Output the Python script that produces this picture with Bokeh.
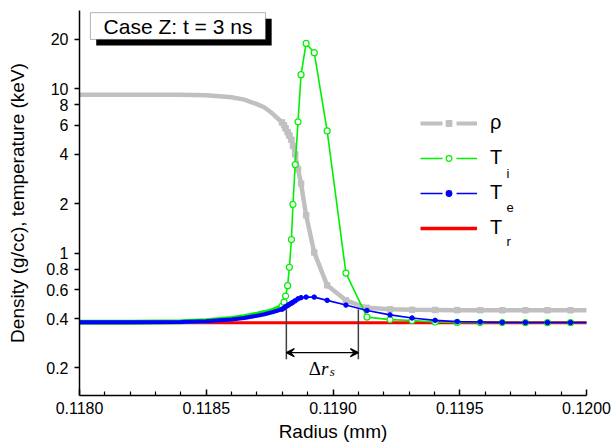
from bokeh.plotting import figure
from bokeh.models import (Range1d, FixedTicker, CustomJSTickFormatter, PrintfTickFormatter, Legend,
                          LegendItem, ColumnDataSource, BoxAnnotation, Label, Arrow, VeeHead)
from bokeh.embed import file_html
from bokeh.resources import INLINE

# ---------------- data ----------------
radius_mm = [0.1180, 0.1182, 0.1184, 0.1185, 0.1186, 0.11865, 0.1187, 0.11873, 0.11876, 0.11878,
             0.118799, 0.118807, 0.118813, 0.118821, 0.118828, 0.118836, 0.118842, 0.118851, 0.118862,
             0.118874, 0.118894, 0.118926, 0.118977, 0.119051, 0.119134, 0.119225, 0.119312, 0.119403,
             0.119490, 0.119581, 0.119668, 0.119759, 0.119846, 0.119937, 0.12002]

rho = [9.2, 9.2, 9.2, 9.15, 8.9, 8.6, 8.07, 7.7, 7.1, 6.65,
       6.25, 6.0, 5.75, 5.45, 5.2, 4.9, 4.5, 4.0, 3.25,
       2.65, 1.70, 1.01, 0.637, 0.516, 0.465, 0.455, 0.452, 0.451,
       0.450, 0.450, 0.449, 0.449, 0.449, 0.449, 0.449]

t_ion = [0.380, 0.380, 0.382, 0.388, 0.400, 0.410, 0.425, 0.435, 0.447, 0.460,
         0.476, 0.503, 0.548, 0.634, 0.82, 1.21, 1.98, 3.46, 6.3,
         12.2, 18.9, 16.6, 5.55, 0.756, 0.408, 0.394, 0.389, 0.381,
         0.379, 0.378, 0.378, 0.378, 0.378, 0.378, 0.378]

t_ele = [0.380, 0.380, 0.381, 0.385, 0.395, 0.403, 0.416, 0.425, 0.437, 0.446,
         0.456, 0.464, 0.472, 0.480, 0.488, 0.496, 0.503, 0.513, 0.527,
         0.536, 0.540, 0.540, 0.516, 0.483, 0.448, 0.421, 0.403, 0.390,
         0.383, 0.381, 0.379, 0.378, 0.378, 0.378, 0.378]

t_rad = [0.377] * len(radius_mm)

x_ticks = [0.1180, 0.1185, 0.1190, 0.1195, 0.1200]
x_minor = [0.1181, 0.1182, 0.1183, 0.1184, 0.1186, 0.1187, 0.1188, 0.1189,
           0.1191, 0.1192, 0.1193, 0.1194, 0.1196, 0.1197, 0.1198, 0.1199]
y_ticks = [0.2, 0.4, 0.6, 0.8, 1, 2, 4, 6, 8, 10, 20]

dense = 11  # first points form a dense (merged-marker) band

# annotation positions
shock_left, shock_right = 0.118816, 0.11910
title_text = "Case Z: t = 3 ns"

FONT = "Liberation Sans"
NAN = float("nan")

p = figure(width=611, height=444, x_range=Range1d(0.1180, 0.1200), y_range=Range1d(0.136, 30),
           y_axis_type="log", output_backend="svg", toolbar_location=None,
           min_border_left=79, min_border_right=25, min_border_top=10, min_border_bottom=49)
p.outline_line_color = None
p.grid.visible = False

src = ColumnDataSource(dict(r=radius_mm, rho=rho, ti=t_ion, te=t_ele, tr=t_rad))
dsrc = ColumnDataSource(dict(r=radius_mm[:dense], ti=t_ion[:dense], te=t_ele[:dense]))
msrc = ColumnDataSource(dict(r=radius_mm[dense - 1:], rho=rho[dense - 1:],
                             ti=t_ion[dense - 1:], te=t_ele[dense - 1:]))

GRAY, GREEN, BLUE, RED = "#c0c0c0", "#00f000", "#0000ff", "#ff0000"

p.line("r", "tr", source=src, line_color=RED, line_width=3)
p.line("r", "rho", source=src, line_color=GRAY, line_width=4.5)
p.scatter("r", "rho", source=msrc, marker="square", size=5.5, fill_color=GRAY, line_color=GRAY)
p.line("r", "ti", source=dsrc, line_color=GREEN, line_width=5)
p.line("r", "ti", source=src, line_color=GREEN, line_width=1.6)
p.scatter("r", "ti", source=msrc, marker="circle", size=6, fill_color="white", line_color=GREEN,
          line_width=1.2)
p.line("r", "te", source=dsrc, line_color=BLUE, line_width=4)
p.line("r", "te", source=src, line_color=BLUE, line_width=1.6)
p.scatter("r", "te", source=msrc, marker="circle", size=4.5, fill_color=BLUE, line_color=BLUE)

# ---------------- axes ----------------
xa = p.xaxis[0]
xa.ticker = FixedTicker(ticks=x_ticks, minor_ticks=x_minor)
xa.formatter = PrintfTickFormatter(format="%.4f")
xa.major_tick_in = 6
xa.major_tick_out = 0
xa.minor_tick_in = 4
xa.minor_tick_out = 0
xa.major_label_standoff = 6
xa.axis_label = "Radius (mm)"
xa.axis_label_standoff = 4

ya = p.yaxis[0]
ya.ticker = FixedTicker(ticks=y_ticks, minor_ticks=[])
ya.formatter = CustomJSTickFormatter(code="return tick.toString()")
ya.major_tick_in = 0
ya.major_tick_out = 5
ya.major_label_standoff = 6
ya.axis_label = "Density (g/cc), temperature (keV)"
ya.axis_label_standoff = 15

for ax in (xa, ya):
    ax.axis_line_width = 1.5
    ax.axis_line_color = "black"
    ax.major_tick_line_width = 1.5
    ax.major_tick_line_color = "black"
    ax.minor_tick_line_width = 1.2
    ax.minor_tick_line_color = "black"
    ax.major_label_text_font = FONT
    ax.major_label_text_font_size = "16px"
    ax.major_label_text_color = "black"
    ax.axis_label_text_font = FONT
    ax.axis_label_text_font_size = "19px"
    ax.axis_label_text_font_style = "normal"
    ax.axis_label_text_color = "black"

# ---------------- legend ----------------
def legend_parts(color, lw, marker=None, fill=None):
    if marker:
        rs = [p.line([NAN], [NAN], line_color=color, line_width=lw, line_dash="22 14")]
        rs.append(p.scatter([NAN], [NAN], marker=marker, fill_color=fill, line_color=color,
                            line_width=1.2))
    else:
        rs = [p.line([NAN], [NAN], line_color=color, line_width=lw)]
    return rs

items = [
    LegendItem(label="ρ", renderers=legend_parts(GRAY, 4, "square", GRAY)),
    LegendItem(label="T", renderers=legend_parts(GREEN, 1.6, "circle", "white")),
    LegendItem(label="T", renderers=legend_parts(BLUE, 1.6, "circle", BLUE)),
    LegendItem(label="T", renderers=legend_parts(RED, 3.5)),
]
legend = Legend(items=items, location=(341, 156), border_line_color=None, background_fill_alpha=0,
                padding=0, margin=0, spacing=12, glyph_width=57, glyph_height=14, label_height=14,
                label_standoff=13, label_text_font=FONT, label_text_font_size="20px",
                label_text_color="black")
p.add_layout(legend)

for sub, yy in (("i", 222.5), ("e", 188.5), ("r", 154.5)):
    p.add_layout(Label(x=427, y=yy, x_units="screen", y_units="screen", text=sub,
                       text_font=FONT, text_font_size="13px", text_baseline="middle",
                       text_color="black"))

# ---------------- title box ----------------
p.add_layout(BoxAnnotation(left=0.118066, right=0.118758, top=26.7, bottom=18.4,
                           fill_color="black", fill_alpha=1, line_color=None))
p.add_layout(BoxAnnotation(left=0.118043, right=0.118734, top=29.1, bottom=20.0,
                           fill_color="white", fill_alpha=1, line_color="black", line_width=1))
p.add_layout(Label(x=0.1183885, y=24.0, text=title_text, text_font=FONT, text_font_size="21px",
                   text_align="center", text_baseline="middle", text_color="black"))

# ---------------- shock width annotation ----------------
for xs in (shock_left, shock_right):
    p.add_layout(Arrow(end=None, x_start=xs, y_start=0.455, x_end=xs, y_end=0.226,
                       line_color="#404040", line_width=1.5))
p.add_layout(Arrow(start=VeeHead(size=8, line_color="black", line_width=1.2),
                   end=VeeHead(size=8, line_color="black", line_width=1.2),
                   x_start=shock_left, y_start=0.248, x_end=shock_right, y_end=0.248,
                   line_color="black", line_width=1.2))
p.add_layout(Label(x=0.118904, y=0.199, text="Δ", text_font="Liberation Serif",
                   text_font_size="19px", text_baseline="alphabetic", text_color="black"))
p.add_layout(Label(x=0.118953, y=0.199, text="r", text_font="Liberation Serif",
                   text_font_size="19px", text_font_style="italic", text_baseline="alphabetic",
                   text_color="black"))
p.add_layout(Label(x=0.118987, y=0.190, text="s", text_font="Liberation Serif",
                   text_font_size="13px", text_font_style="italic", text_baseline="alphabetic",
                   text_color="black"))

open("out.html", "w").write(file_html(p, INLINE))
